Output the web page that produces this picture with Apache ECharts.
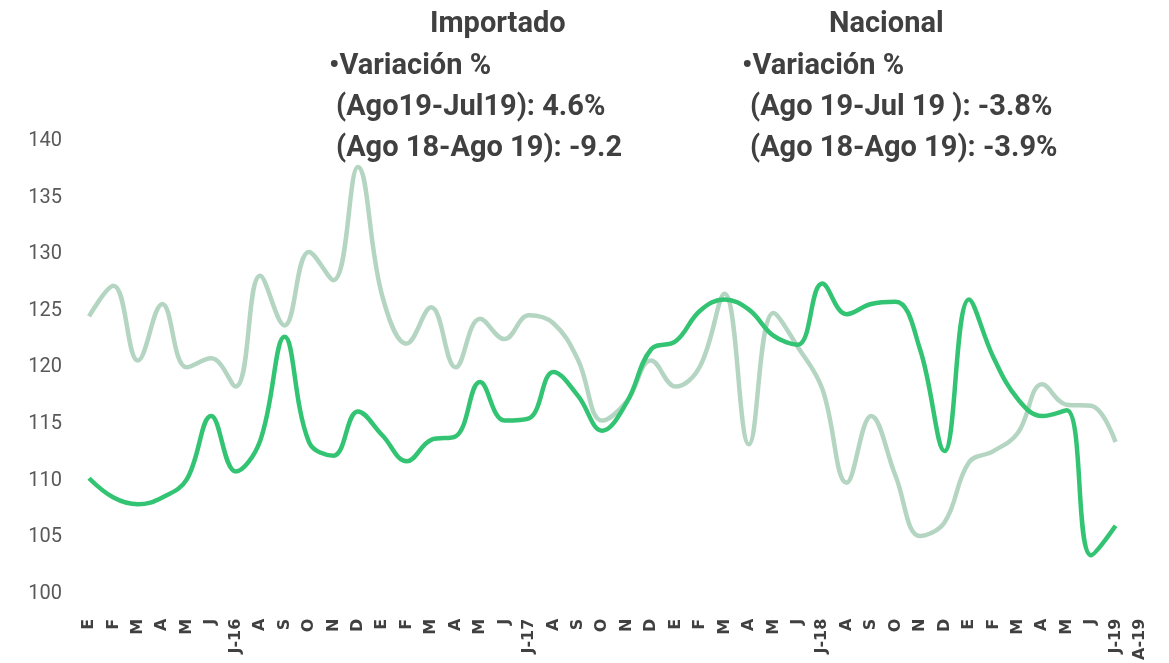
<!DOCTYPE html>
<html>
<head>
<meta charset="utf-8">
<title>Importado vs Nacional</title>
<script src="https://cdn.jsdelivr.net/npm/echarts@6/dist/echarts.min.js"></script>
<style>
  html, body { margin: 0; padding: 0; background: #fff; }
  #main { width: 1169px; height: 663px; }
</style>
</head>
<body>
<div id="main"></div>
<script>
// eje x: meses ene-2016 a ago-2019
var months = [
  'E', 'F', 'M', 'A', 'M', 'J', 'J-16', 'A', 'S', 'O', 'N', 'D',
  'E', 'F', 'M', 'A', 'M', 'J', 'J-17', 'A', 'S', 'O', 'N', 'D',
  'E', 'F', 'M', 'A', 'M', 'J', 'J-18', 'A', 'S', 'O', 'N', 'D',
  'E', 'F', 'M', 'A', 'M', 'J', 'J-19', 'A-19'
]
// serie clara
var importado = [
  124.5, 127.2, 120.6, 125.6, 120.0, 120.8, 118.3, 128.1, 123.7, 130.2, 127.7, 137.7,
  126.3, 122.1, 125.3, 120.0, 124.3, 122.5, 124.6, 123.9, 120.7, 115.3, 117.0, 120.6,
  118.3, 120.1, 126.5, 113.2, 124.8, 121.8, 118.1, 109.8, 115.7, 110.4, 105.1, 106.3,
  111.6, 112.6, 114.2, 118.5, 116.7, 116.6, 113.4, null
]
// serie oscura
var nacional = [
  110.2, 108.5, 107.9, 108.5, 110.1, 115.7, 110.8, 113.5, 122.7, 113.4, 112.2, 116.1,
  114.0, 111.7, 113.6, 113.9, 118.7, 115.3, 115.5, 119.6, 117.5, 114.4, 116.9, 121.6,
  122.3, 125.0, 126.0, 125.1, 122.8, 122.0, 127.4, 124.7, 125.6, 125.8, 121.6, 112.6,
  126.0, 120.9, 117.2, 115.7, 116.2, 103.4, 106.0, null
]
var yTicks = { min: 100, max: 140, step: 5 }

var textColor = '#404040'
var font = 'Roboto'

function note(text, left, top) {
  return {
    text: text,
    left: left,
    top: top,
    padding: 0,
    textStyle: {
      fontFamily: font,
      fontSize: 29,
      fontWeight: 'bold',
      color: textColor
    }
  }
}

var myChart = echarts.init(document.getElementById('main'))
var option = {
  animation: false,
  backgroundColor: '#fff',
  title: [
    note('Importado', 430, 10),
    note('•Variación %', 329, 52),
    note('(Ago19-Jul19): 4.6%', 336, 93),
    note('(Ago 18-Ago 19): -9.2', 336, 134),
    note('Nacional', 829, 10),
    note('•Variación %', 742, 52),
    note('(Ago 19-Jul 19 ): -3.8%', 750, 93),
    note('(Ago 18-Ago 19): -3.9%', 750, 134)
  ],
  grid: {
    left: 89,
    right: 29,
    top: 141,
    bottom: 68,
    containLabel: false
  },
  xAxis: {
    type: 'category',
    boundaryGap: false,
    data: months,
    axisLine: { show: false },
    axisTick: { show: false },
    splitLine: { show: false },
    axisLabel: {
      interval: 0,
      rotate: 90,
      margin: 25,
      fontFamily: 'DejaVu Sans',
      fontWeight: 'bold',
      fontSize: 16,
      color: textColor
    }
  },
  yAxis: {
    type: 'value',
    min: yTicks.min,
    max: yTicks.max,
    interval: yTicks.step,
    axisLine: { show: false },
    axisTick: { show: false },
    splitLine: { show: false },
    axisLabel: {
      margin: 27,
      padding: [6, 0, 0, 0],
      fontFamily: font,
      fontSize: 20,
      color: '#595959'
    }
  },
  series: [
    {
      name: 'Importado',
      type: 'line',
      data: importado,
      smooth: 0.4,
      showSymbol: false,
      lineStyle: { color: '#b5d5c3', width: 4.5 },
      itemStyle: { color: '#b5d5c3' },
      z: 2
    },
    {
      name: 'Nacional',
      type: 'line',
      data: nacional,
      smooth: 0.4,
      showSymbol: false,
      lineStyle: { color: '#33c473', width: 4.5 },
      itemStyle: { color: '#33c473' },
      z: 3
    }
  ]
}
option && myChart.setOption(option, true)
</script>
</body>
</html>
